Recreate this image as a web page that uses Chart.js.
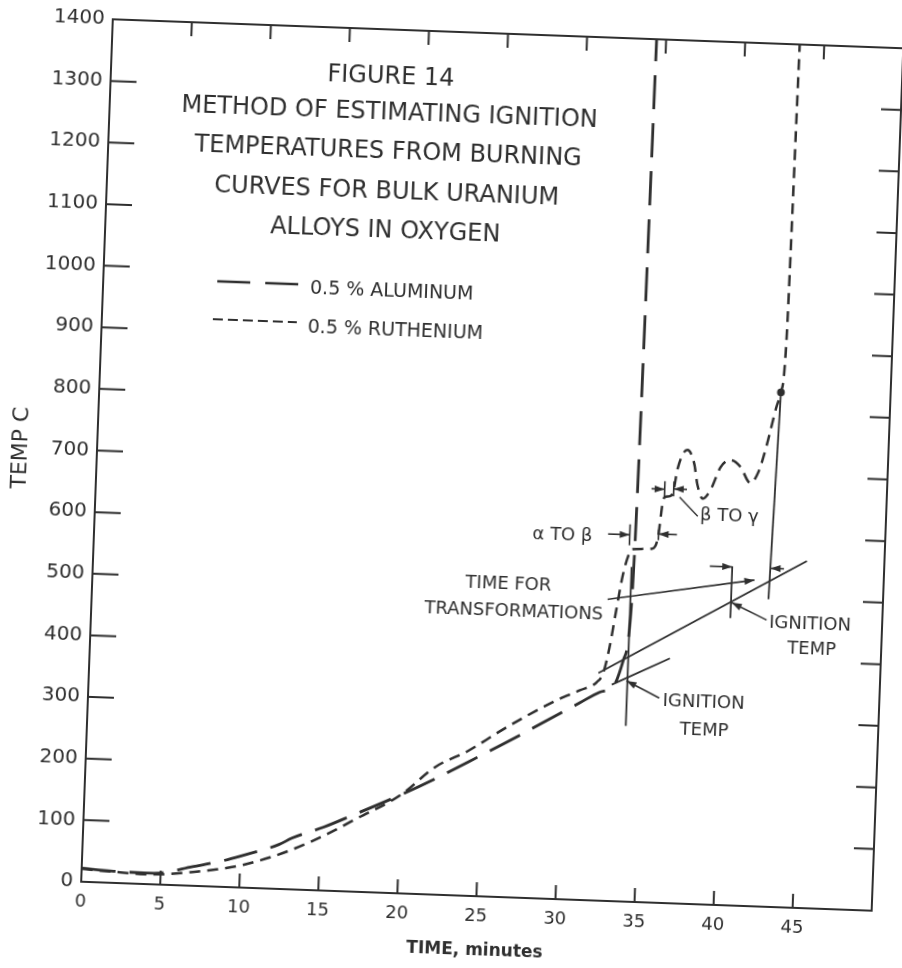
<!DOCTYPE html>
<html>
<head>
<meta charset="utf-8">
<script src="https://cdn.jsdelivr.net/npm/chart.js@4.4.0/dist/chart.umd.min.js"></script>
<style>
  html, body { margin: 0; padding: 0; background: #fff; overflow: hidden; }
  #wrap { width: 902px; height: 968px; }
  /* the scanned figure sits slightly tilted on the page */
  #chartCanvas { transform: rotate(2.1deg); transform-origin: 451px 484px; }
</style>
</head>
<body>
<div id="wrap"><canvas id="chartCanvas" width="902" height="968"></canvas></div>
<script>
// burning curve, 0.5 % aluminum alloy (long dashes)
const timeAl = [0, 2, 4, 5, 7, 8.7, 10, 12.4, 13.2, 15.2, 17, 20, 22.2, 25, 26.8, 28.7, 31.1, 32.3, 33.2, 33.74, 34.1, 34.25, 34.4];
const tempAl = [22, 19, 18, 19, 31, 41, 51, 72, 83, 103, 124, 160, 189, 229, 255, 284, 320, 338, 350, 392, 468, 700, 1400];

// burning curve, 0.5 % ruthenium alloy (short dashes)
const timeRu = [0, 2, 4, 5.2, 6.9, 8.5, 10.2, 13.1, 15.8, 17, 20, 22.1, 24.2, 26, 27.8, 29.65, 31.06, 32.1, 32.5, 32.83,
                33.17, 33.49, 33.82, 34.05, 35.3, 35.64, 35.86, 35.97, 36.3, 36.5, 36.72, 37.3, 37.76, 38.0, 38.37, 38.87, 39.43, 40.04, 40.68, 41.35,
                41.84, 42.3, 42.8, 43.07, 43.3, 43.45];
const tempRu = [21, 18, 16, 17, 22, 28, 37, 63, 97, 115, 160, 207, 236, 267, 296, 323, 340, 354, 370, 411,
                472, 527, 562, 572, 574, 593, 650, 658, 660, 668, 705, 736, 714, 681, 658, 674, 710, 722, 712, 686,
                705, 749, 809, 835, 920, 1400];

const xTicks = [0, 5, 10, 15, 20, 25, 30, 35, 40, 45];
const yTicks = [0, 100, 200, 300, 400, 500, 600, 700, 800, 900, 1000, 1100, 1200, 1300, 1400];

const titleLines = ['FIGURE 14', 'METHOD OF ESTIMATING IGNITION', 'TEMPERATURES FROM BURNING', 'CURVES FOR BULK URANIUM', 'ALLOYS IN OXYGEN'];
const seriesNames = ['0.5 % ALUMINUM', '0.5 % RUTHENIUM'];

// construction lines on the figure, [time, temp]
const alIgnitionLine = [[34.04, 285], [34.04, 543]];
const alTangent = [[33.06, 351], [36.67, 397]];
const ruTangent = [[32.19, 369], [45.1, 563]];
const ruIgnitionLine = [[42.76, 499], [43.07, 835]];
const ruMarkLine = [[40.4, 466], [40.4, 550]];
const alphaBetaTicks = [[[33.85, 578], [33.85, 612]], [[35.67, 588], [35.67, 605]]];
const betaGammaTicks = [[[35.95, 658], [35.95, 684]], [[36.52, 660], [36.52, 684]]];
const betaGammaLeader = [[36.91, 659], [38.1, 629]];

// arrows, head at the last point
const arrows = [
  [[36.09, 332], [33.98, 358]],
  [[42.69, 465], [40.45, 491]],
  [[32.6, 489], [41.83, 529]],
  [[38.98, 549], [40.4, 549]],
  [[43.67, 549], [42.82, 549]],
  [[32.48, 595], [33.85, 595]],
  [[36.83, 598], [35.67, 598]],
  [[35.12, 671], [35.95, 671]],
  [[37.36, 672], [36.52, 672]]
];

const notes = [
  ['α TO β', 29.6, 590],
  ['β TO γ', 40.1, 631],
  ['TIME FOR', 26.3, 508],
  ['TRANSFORMATIONS', 26.7, 463],
  ['IGNITION', 45.45, 460],
  ['TEMP', 45.6, 419],
  ['IGNITION', 38.9, 327],
  ['TEMP', 39.0, 282]
];

const ink = '#2f2f2f';
const font = 'DejaVu Sans';

function pts(list) {
  return list.map(p => ({ x: p[0], y: p[1] }));
}

function seg(list, extra) {
  return Object.assign({
    data: pts(list),
    showLine: true,
    borderColor: ink,
    backgroundColor: ink,
    borderWidth: 1.8,
    pointRadius: 0,
    tension: 0
  }, extra || {});
}

let datasets = [
  {
    label: seriesNames[0],
    data: timeAl.map((t, i) => ({ x: t, y: tempAl[i] })),
    showLine: true,
    borderColor: ink,
    borderWidth: 2.8,
    borderDash: [34, 14],
    pointRadius: 0,
    cubicInterpolationMode: 'monotone'
  },
  {
    label: seriesNames[1],
    data: timeRu.map((t, i) => ({ x: t, y: tempRu[i] })),
    showLine: true,
    borderColor: ink,
    borderWidth: 2.5,
    borderDash: [11, 7],
    pointRadius: 0,
    cubicInterpolationMode: 'monotone'
  },
  seg(alIgnitionLine),
  seg(alTangent),
  seg(ruTangent),
  seg(ruIgnitionLine, { pointRadius: [0, 3] }),
  seg(ruMarkLine),
  seg(betaGammaLeader, { borderWidth: 1.4 })
];
alphaBetaTicks.concat(betaGammaTicks).forEach(t => datasets.push(seg(t, { borderWidth: 1.6 })));
arrows.forEach(a => datasets.push(seg(a, { arrow: true, borderWidth: 1.6 })));

const inkPlugin = {
  id: 'ink',
  afterDatasetsDraw(chart) {
    const { ctx, chartArea: a, scales } = chart;
    const x = scales.x, y = scales.y;
    ctx.save();
    ctx.strokeStyle = ink;
    ctx.fillStyle = ink;

    // frame and inward ticks
    ctx.lineWidth = 2;
    ctx.strokeRect(a.left, a.top, a.right - a.left, a.bottom - a.top);
    ctx.beginPath();
    xTicks.slice(1).forEach(v => {
      const px = x.getPixelForValue(v);
      ctx.moveTo(px, a.bottom); ctx.lineTo(px, a.bottom - 14);
      ctx.moveTo(px, a.top); ctx.lineTo(px, a.top + 14);
    });
    yTicks.slice(1, -1).forEach(v => {
      const py = y.getPixelForValue(v);
      ctx.moveTo(a.left, py); ctx.lineTo(a.left + 26, py);
      ctx.moveTo(a.right, py); ctx.lineTo(a.right - 20, py);
    });
    ctx.stroke();

    // arrowheads
    chart.data.datasets.forEach((ds, i) => {
      if (!ds.arrow) return;
      const p = chart.getDatasetMeta(i).data;
      const p1 = p[p.length - 2], p2 = p[p.length - 1];
      const ang = Math.atan2(p2.y - p1.y, p2.x - p1.x);
      const c = Math.cos(ang), s = Math.sin(ang);
      ctx.beginPath();
      ctx.moveTo(p2.x, p2.y);
      ctx.lineTo(p2.x - 10 * c + 3.5 * s, p2.y - 10 * s - 3.5 * c);
      ctx.lineTo(p2.x - 10 * c - 3.5 * s, p2.y - 10 * s + 3.5 * c);
      ctx.closePath();
      ctx.fill();
    });

    // notes on the curves
    ctx.font = '18px "' + font + '"';
    ctx.textAlign = 'center';
    ctx.textBaseline = 'middle';
    notes.forEach(n => ctx.fillText(n[0], x.getPixelForValue(n[1]), y.getPixelForValue(n[2])));

    // title block
    ctx.font = '24px "' + font + '"';
    ctx.textBaseline = 'alphabetic';
    const titleY = [77, 113, 152, 192, 231];
    titleLines.forEach((t, i) => ctx.fillText(t, 376, titleY[i] + 9));

    // legend
    ctx.lineWidth = 2.6;
    ctx.setLineDash([33, 15]);
    ctx.beginPath(); ctx.moveTo(210, 290); ctx.lineTo(291, 290); ctx.stroke();
    ctx.lineWidth = 2.2;
    ctx.setLineDash([10, 5]);
    ctx.beginPath(); ctx.moveTo(207, 328); ctx.lineTo(291, 328); ctx.stroke();
    ctx.setLineDash([]);
    ctx.font = '19px "' + font + '"';
    ctx.textAlign = 'left';
    ctx.fillText(seriesNames[0], 303, 292 + 7);
    ctx.fillText(seriesNames[1], 302, 331 + 7);
    ctx.restore();
  }
};

let ctx = document.getElementById('chartCanvas').getContext('2d');
let chart = new Chart(ctx, {
  type: 'scatter',
  data: { datasets: datasets },
  options: {
    responsive: false,
    animation: false,
    layout: { padding: { top: 32, right: 15, bottom: 0, left: 0 } },
    plugins: { legend: { display: false }, tooltip: { enabled: false } },
    scales: {
      x: {
        type: 'linear',
        min: 0,
        max: 50,
        afterBuildTicks: s => { s.ticks = xTicks.map(v => ({ value: v })); },
        afterFit: s => { s.height = 73; },
        grid: { display: false, drawTicks: false },
        border: { display: false },
        ticks: { color: ink, padding: 10, maxRotation: 0, autoSkip: false, callback: v => String(v), font: { family: font, size: 18 } },
        title: { display: true, text: 'TIME, minutes', color: ink, padding: { top: 0, bottom: 8 }, font: { family: font, size: 17, weight: 'bold' } }
      },
      y: {
        type: 'linear',
        min: 0,
        max: 1400,
        afterBuildTicks: s => { s.ticks = yTicks.map(v => ({ value: v })); },
        afterFit: s => { s.width = 96; },
        grid: { display: false, drawTicks: false },
        border: { display: false },
        ticks: { color: ink, padding: 8, autoSkip: false, callback: v => String(v), font: { family: font, size: 20 } },
        title: { display: true, text: 'TEMP C', color: ink, padding: { top: 7, bottom: 0 }, font: { family: font, size: 22 } }
      }
    }
  },
  plugins: [inkPlugin]
});
</script>
</body>
</html>
